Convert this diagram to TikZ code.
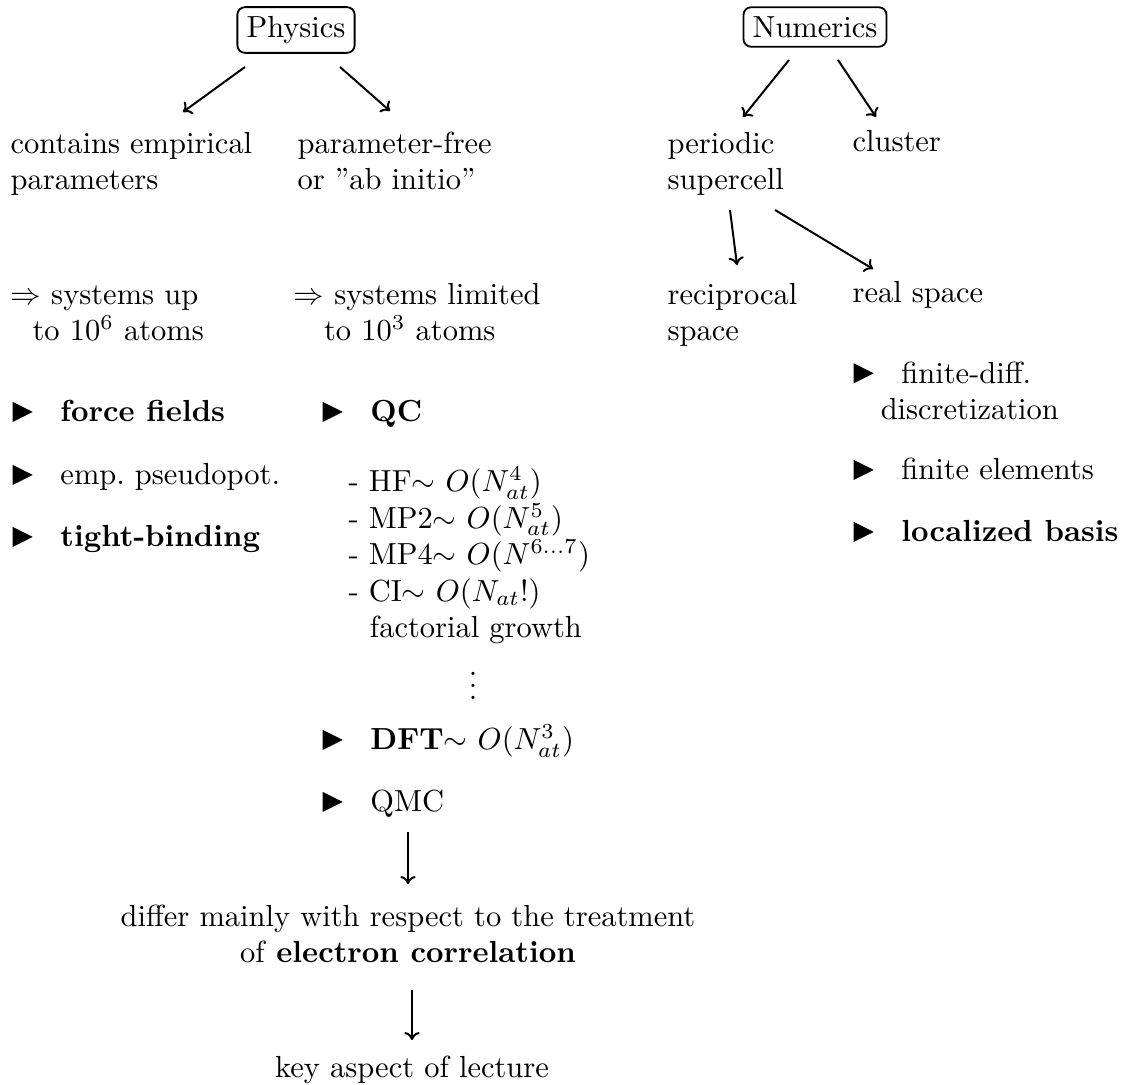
\documentclass[tikz,border=0pt]{standalone}
\usepackage{amsmath}
\usetikzlibrary{arrows.meta}
\newcommand{\tribul}{\tikz[baseline=0pt]\fill (0pt,0pt) -- (0pt,6.6pt) -- (6.6pt,3.3pt) -- cycle;\hspace{9.1pt}}
\tikzset{
  lbl/.style={anchor=base west, inner sep=0pt, align=left},
  ctr/.style={anchor=base, inner sep=0pt, align=center},
  boxed/.style={draw, rounded corners=2.5pt, inner sep=3pt, semithick},
  arr/.style={-{To[length=2.6pt,width=5pt]}, line width=0.65pt},
}
\begin{document}
\begin{tikzpicture}[x=0.328pt,y=-0.328pt]
\useasboundingbox (0,0) rectangle (1127,1085);
% top boxes
\node[boxed] (phys) at (296,30) {Physics};
\node[boxed] (num) at (815,27) {Numerics};
% level 1 (multi-line nodes: base = last line)
\node[lbl] (emp) at (10,190) {contains empirical\\parameters};
\node[lbl] (free) at (297,190) {parameter-free\\or "ab initio"};
\node[lbl] (per) at (667,190) {periodic\\supercell};
\node[lbl] (clu) at (852,152) {cluster};
% level 2
\node[lbl] (sysup) at (10,341) {$\Rightarrow$ systems up\\\hspace*{7.2pt}to $10^6$ atoms};
\node[lbl] (syslim) at (293,341) {$\Rightarrow$ systems limited\\\hspace*{10pt}to $10^3$ atoms};
\node[lbl] (recip) at (667,341) {reciprocal\\space};
\node[lbl] (real) at (852,303) {real space};
% left bullets
\node[lbl] (ff) at (12,422) {\tribul\textbf{force fields}};
\node[lbl] (ep) at (12,485) {\tribul emp.\ pseudopot.};
\node[lbl] (tb) at (12,547) {\tribul\textbf{tight-binding}};
% middle bullets
\node[lbl] (qc) at (322,422) {\tribul\textbf{QC}};
\node[lbl] (qcl) at (348,638) {- HF$\sim$ $O(N_{at}^4)$\\- MP2$\sim$ $O(N_{at}^5)$\\- MP4$\sim$ $O(N^{6\ldots7})$\\- CI$\sim$ $O(N_{at}!)$\\\hspace*{7pt}factorial growth};
\node[inner sep=0pt] (vd) at (473,677) {$\vdots$};
\node[lbl] (dft) at (322,750) {\tribul\textbf{DFT}$\sim$ $O(N_{at}^3)$};
\node[lbl] (qmc) at (322,812) {\tribul QMC};
% right bullets
\node[lbl] (fd) at (853,420) {\tribul finite-diff.\\\hspace*{8.9pt}discretization};
\node[lbl] (fe) at (853,480) {\tribul finite elements};
\node[lbl] (lb) at (853,542) {\tribul\textbf{localized basis}};
% bottom
\node[ctr] (diff) at (408,963) {differ mainly with respect to the treatment\\of \textbf{electron correlation}};
\node[ctr] (key) at (412,1078) {key aspect of lecture};
% arrow endpoints
\coordinate (p1) at (245,67);   \coordinate (e1) at (183,112);
\coordinate (p2) at (340,67);   \coordinate (e2) at (390,111);
\coordinate (n1) at (789,60);   \coordinate (m1) at (743,117);
\coordinate (n2) at (838,60);   \coordinate (m2) at (876,117);
\coordinate (s1) at (730,210);  \coordinate (r1) at (737,265);
\coordinate (s2) at (775,210);  \coordinate (r2) at (873,269);
\coordinate (q1) at (408,832);  \coordinate (d1) at (408,884);
\coordinate (q2) at (412,990);  \coordinate (d2) at (412,1040);
\draw[arr] (p1) -- (e1);
\draw[arr] (p2) -- (e2);
\draw[arr] (n1) -- (m1);
\draw[arr] (n2) -- (m2);
\draw[arr] (s1) -- (r1);
\draw[arr] (s2) -- (r2);
\draw[arr] (q1) -- (d1);
\draw[arr] (q2) -- (d2);
\end{tikzpicture}
\end{document}
